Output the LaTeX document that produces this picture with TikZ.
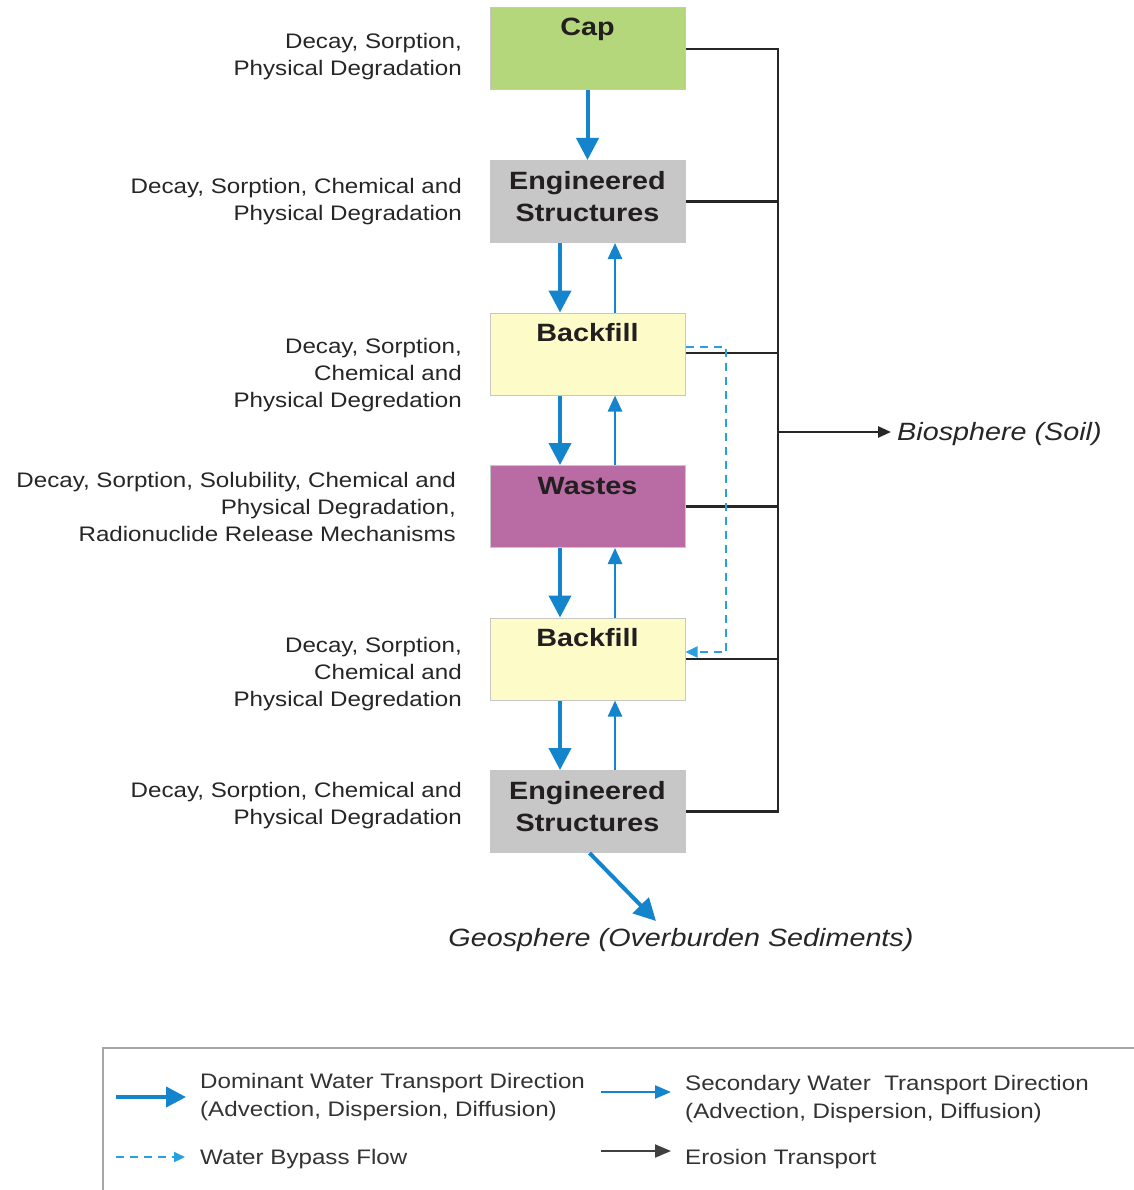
\documentclass[tikz,border=0pt]{standalone}
\usepackage{fontspec}
\setmainfont{Liberation Sans}
\newfontfamily\labf[FakeStretch=1.15]{Liberation Sans}
\usetikzlibrary{arrows.meta,calc}
\definecolor{wblue}{RGB}{20,133,204}
\definecolor{bblue}{RGB}{40,160,222}
\definecolor{capgreen}{RGB}{181,215,123}
\definecolor{esgray}{RGB}{199,199,199}
\definecolor{bfyellow}{RGB}{253,252,201}
\definecolor{wpurple}{RGB}{184,108,163}
\definecolor{txt}{RGB}{35,31,32}
\begin{document}
\begin{tikzpicture}[x=1pt,y=-1pt,
  box/.style={draw=black!22,line width=1pt,minimum width=195pt,minimum height=82pt,inner sep=0pt},
  boxtitle/.style={inner sep=0pt,align=center,font=\labf\fontsize{25}{32}\selectfont\bfseries,text=txt},
  side/.style={inner sep=0pt,anchor=east,align=right,font=\labf\fontsize{21}{27}\selectfont,text=black!85},
  legtxt/.style={inner sep=0pt,anchor=west,align=left,font=\labf\fontsize{21}{28}\selectfont,text=black!80},
  ital/.style={inner sep=0pt,font=\labf\fontsize{25}{30}\selectfont\itshape,text=black!85},
  dom/.style={wblue,line width=4pt,-{Triangle[length=22pt,width=22pt]}},
  sec/.style={wblue,line width=2.5pt,-{Triangle[length=16pt,width=14pt]}},
  bypass/.style={bblue,line width=2.2pt,dash pattern=on 8pt off 6pt,-{Triangle[length=12pt,width=11pt]}},
  erosion/.style={black!85,line width=2.5pt},
  erosarrow/.style={black!85,line width=2.5pt,-{Triangle[length=13pt,width=11pt]}},
]
\useasboundingbox (0,0) rectangle (1133,1190);
\fill[white] (0,0) rectangle (1133,1190);

% boxes
\node[box,fill=capgreen] (cap) at (587.5,49) {};
\node[boxtitle] (capt) at (587.5,29) {Cap};
\node[box,fill=esgray] (es1) at (587.5,201.5) {};
\node[boxtitle] (es1t) at (587.5,197) {Engineered\\Structures};
\node[box,fill=bfyellow] (bf1) at (587.5,354) {};
\node[boxtitle] (bf1t) at (587.5,333) {Backfill};
\node[box,fill=wpurple] (wa) at (587.5,506.5) {};
\node[boxtitle] (wat) at (587.5,486) {Wastes};
\node[box,fill=bfyellow] (bf2) at (587.5,659) {};
\node[boxtitle] (bf2t) at (587.5,638) {Backfill};
\node[box,fill=esgray] (es2) at (587.5,811.5) {};
\node[boxtitle] (es2t) at (587.5,807) {Engineered\\Structures};

% side labels
\node[side] (l1) at (462,56.5) {Decay, Sorption,\\Physical Degradation};
\node[side] (l2) at (462,201.5) {Decay, Sorption, Chemical and\\Physical Degradation};
\node[side] (l3) at (462,375) {Decay, Sorption,\\Chemical and\\Physical Degredation};
\node[side] (l4) at (456,506.5) {Decay, Sorption, Solubility, Chemical and\\Physical Degradation,\\Radionuclide Release Mechanisms};
\node[side] (l5) at (462,674) {Decay, Sorption,\\Chemical and\\Physical Degredation};
\node[side] (l6) at (462,806) {Decay, Sorption, Chemical and\\Physical Degradation};

% erosion transport
\coordinate (busT) at (778,49);
\coordinate (busB) at (778,811.5);
\coordinate (bioS) at (778,432);
\draw[erosion,line join=miter] (cap.east) -| (busB) -- (es2.east);
\draw[erosion] (es1.east) -- (es1.east -| busT);
\draw[erosion] ([yshift=1pt]bf1.east) -- ([yshift=1pt]bf1.east -| busT);
\draw[erosion] (wa.east) -- (wa.east -| busT);
\draw[erosion] (bf2.east) -- (bf2.east -| busT);
\node[ital,anchor=west] (bio) at (897,434) {Biosphere (Soil)};
\draw[erosarrow] (bioS) -- ([xshift=-6pt,yshift=2pt]bio.west);

% bypass
\coordinate (bypT) at (726,347);
\coordinate (bypB) at (726,652);
\draw[bypass] ([yshift=7pt]bf1.east) -- (bypT) -- (bypB) -- ([yshift=7pt]bf2.east);

% water transport
\draw[dom] (cap.south) -- (es1.north);
\foreach \a/\b in {es1/bf1,bf1/wa,wa/bf2,bf2/es2}{
  \draw[dom] ([xshift=-27.5pt]\a.south) -- ([xshift=-27.5pt]\b.north);
  \draw[sec] ([xshift=27.5pt]\b.north) -- ([xshift=27.5pt]\a.south);
}

% geosphere
\node[ital] (geo) at (681,940) {Geosphere (Overburden Sediments)};
\coordinate (geoTip) at (656,921);
\draw[dom] ([xshift=2pt]es2.south) -- (geoTip);

% legend
\draw[black!35,line width=1.3pt] (103,1200) -- (103,1048) -- (1140,1048);
\coordinate (la1) at (116,1097); \coordinate (lb1) at (186,1097);
\coordinate (la2) at (601,1092); \coordinate (lb2) at (671,1092);
\coordinate (la3) at (116,1157); \coordinate (lb3) at (185,1157);
\coordinate (la4) at (601,1151); \coordinate (lb4) at (671,1151);
\draw[wblue,line width=4pt,-{Triangle[length=20pt,width=20pt]}] (la1) -- (lb1);
\draw[wblue,line width=2.5pt,-{Triangle[length=16pt,width=13pt]}] (la2) -- (lb2);
\draw[bblue,line width=2.2pt,dash pattern=on 8pt off 6pt,-{Triangle[length=11pt,width=10pt]}] (la3) -- (lb3);
\draw[black!75,line width=2pt,-{Triangle[length=16pt,width=13pt]}] (la4) -- (lb4);
\node[legtxt] (t1) at (200,1097) {Dominant Water Transport Direction\\(Advection, Dispersion, Diffusion)};
\node[legtxt] (t2) at (685,1099) {Secondary Water\ \ Transport Direction\\(Advection, Dispersion, Diffusion)};
\node[legtxt] (t3) at (200,1159) {Water Bypass Flow};
\node[legtxt] (t4) at (685,1159) {Erosion Transport};
\end{tikzpicture}
\end{document}
